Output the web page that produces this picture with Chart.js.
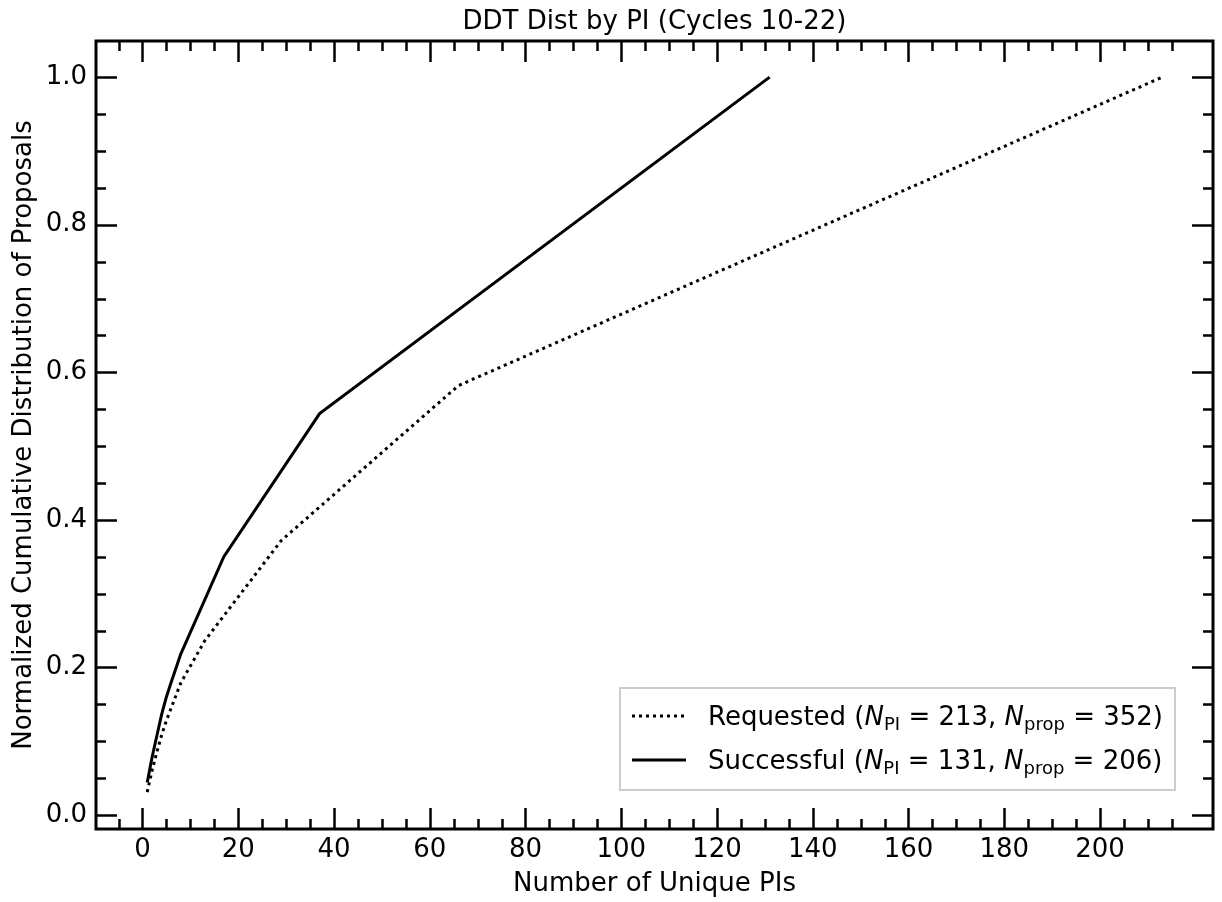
<!DOCTYPE html>
<html>
<head>
<meta charset="utf-8">
<script src="https://cdn.jsdelivr.net/npm/chart.js@4.4.1/dist/chart.umd.min.js"></script>
<style>
  html, body { margin: 0; padding: 0; background: #fff; }
  #wrap { width: 1222px; height: 902px; }
</style>
</head>
<body>
<div id="wrap"><canvas id="chart" width="1222" height="902"></canvas></div>
<script>
'use strict';

// Cumulative fraction of proposals vs. number of unique PIs
const requestedX = [1, 2, 3, 4, 5, 6, 7, 8, 13, 29, 66, 213];
const requestedY = [0.031, 0.060, 0.085, 0.108, 0.128, 0.145, 0.162, 0.179, 0.236, 0.372, 0.582, 1.0];

const successfulX = [1, 2, 3, 4, 5, 6, 7, 8, 17, 37, 131];
const successfulY = [0.044, 0.078, 0.107, 0.136, 0.160, 0.180, 0.199, 0.218, 0.350, 0.544, 1.0];

const seriesNames = ['Requested', 'Successful'];
const seriesNPI = [213, 131];
const seriesNProp = [352, 206];

const xMajorTicks = [0, 20, 40, 60, 80, 100, 120, 140, 160, 180, 200];
const yMajorTicks = [0.0, 0.2, 0.4, 0.6, 0.8, 1.0];

const titleText = 'DDT Dist by PI (Cycles 10-22)';
const xLabel = 'Number of Unique PIs';
const yLabel = 'Normalized Cumulative Distribution of Proposals';

const FONT = '"DejaVu Sans", sans-serif';
const FONT_SIZE = 26;

// minor ticks: every 5 on x, every 0.05 on y (skip majors)
const xMinorTicks = [];
for (let v = -5; v <= 215; v += 5) if (v % 20 !== 0) xMinorTicks.push(v);
const yMinorTicks = [];
for (let i = 1; i < 20; i++) if (i % 4 !== 0) yMinorTicks.push(i * 0.05);

function toPoints(xs, ys) {
  return xs.map((x, i) => ({ x: x, y: ys[i] }));
}

// matplotlib-like frame with inward ticks on all four sides
const frameTicks = {
  id: 'frameTicks',
  afterDatasetsDraw(chart) {
    const { ctx, chartArea: a, scales } = chart;
    const sx = scales.x, sy = scales.y;
    ctx.save();
    ctx.strokeStyle = '#000';
    ctx.lineCap = 'butt';
    ctx.lineWidth = 2.5;
    ctx.beginPath();
    const xt = (vals, len) => {
      vals.forEach((v) => {
        const px = Math.round(sx.getPixelForValue(v)) + 0.5;
        ctx.moveTo(px, a.bottom); ctx.lineTo(px, a.bottom - len);
        ctx.moveTo(px, a.top); ctx.lineTo(px, a.top + len);
      });
    };
    const yt = (vals, len) => {
      vals.forEach((v) => {
        const py = Math.round(sy.getPixelForValue(v)) + 0.5;
        ctx.moveTo(a.left, py); ctx.lineTo(a.left + len, py);
        ctx.moveTo(a.right, py); ctx.lineTo(a.right - len, py);
      });
    };
    xt(xMajorTicks, 21); xt(xMinorTicks, 10);
    yt(yMajorTicks, 21); yt(yMinorTicks, 10);
    ctx.stroke();
    ctx.lineWidth = 3;
    ctx.strokeRect(a.left, a.top, a.right - a.left, a.bottom - a.top);
    ctx.restore();
  },
};

// legend with italic N and subscripts
const richLegend = {
  id: 'richLegend',
  afterDraw(chart) {
    const { ctx, chartArea: a } = chart;
    const normal = FONT_SIZE + 'px ' + FONT;
    const italic = 'italic ' + FONT_SIZE + 'px ' + FONT;
    const sub = '18px ' + FONT;
    const rows = seriesNames.map((name, i) => [
      { t: name + ' (', f: normal, dy: 0 },
      { t: 'N', f: italic, dy: 0 },
      { t: 'PI', f: sub, dy: 5 },
      { t: ' = ' + seriesNPI[i] + ', ', f: normal, dy: 0 },
      { t: 'N', f: italic, dy: 0 },
      { t: 'prop', f: sub, dy: 5 },
      { t: ' = ' + seriesNProp[i] + ')', f: normal, dy: 0 },
    ]);
    ctx.save();
    const widths = rows.map((segs) => segs.reduce((w, s) => { ctx.font = s.f; return w + ctx.measureText(s.t).width; }, 0));
    const boxW = 88 + Math.max(...widths) + 12;
    const boxH = 102;
    const right = a.right - 38;
    const bottom = a.bottom - 39;
    const left = right - boxW;
    const top = bottom - boxH;
    ctx.fillStyle = 'rgba(255,255,255,0.85)';
    ctx.fillRect(left, top, boxW, boxH);
    ctx.strokeStyle = '#cccccc';
    ctx.lineWidth = 2;
    ctx.strokeRect(left, top, boxW, boxH);

    const rowY = [top + 28, top + 72];
    chart.data.datasets.forEach((ds, i) => {
      const y = rowY[i];
      ctx.strokeStyle = '#000';
      ctx.lineWidth = ds.borderWidth;
      ctx.setLineDash(ds.borderDash || []);
      ctx.beginPath();
      ctx.moveTo(left + 12, y);
      ctx.lineTo(left + 66, y);
      ctx.stroke();
      ctx.setLineDash([]);
      let x = left + 88;
      ctx.fillStyle = '#000';
      ctx.textBaseline = 'alphabetic';
      rows[i].forEach((s) => {
        ctx.font = s.f;
        ctx.fillText(s.t, x, y + 9 + s.dy);
        x += ctx.measureText(s.t).width;
      });
    });
    ctx.restore();
  },
};

const ctx = document.getElementById('chart').getContext('2d');
new Chart(ctx, {
  type: 'line',
  data: {
    datasets: [
      {
        label: seriesNames[0],
        data: toPoints(requestedX, requestedY),
        borderColor: '#000',
        borderWidth: 3,
        borderDash: [3, 4],
        pointRadius: 0,
        tension: 0,
      },
      {
        label: seriesNames[1],
        data: toPoints(successfulX, successfulY),
        borderColor: '#000',
        borderWidth: 3,
        pointRadius: 0,
        tension: 0,
      },
    ],
  },
  options: {
    responsive: false,
    animation: false,
    devicePixelRatio: 1,
    layout: { padding: { left: 0, right: 9, top: 0, bottom: 0 } },
    plugins: {
      legend: { display: false },
      tooltip: { enabled: false },
      title: {
        display: true,
        fullSize: false, // center over the plot area like matplotlib
        text: titleText,
        color: '#000',
        font: { family: FONT, size: FONT_SIZE, weight: 'normal', lineHeight: 1.2 },
        padding: { top: 7, bottom: 2.8 },
      },
    },
    scales: {
      x: {
        type: 'linear',
        min: -9.7,
        max: 223.6,
        grid: { display: false, drawTicks: false },
        border: { display: false },
        afterBuildTicks: (scale) => { scale.ticks = xMajorTicks.map((v) => ({ value: v })); },
        afterFit: (scale) => { scale.height = 73; },
        ticks: {
          color: '#000',
          padding: 6,
          autoSkip: false,
          maxRotation: 0,
          font: { family: FONT, size: FONT_SIZE },
        },
        title: {
          display: true,
          text: xLabel,
          color: '#000',
          font: { family: FONT, size: FONT_SIZE },
          padding: { top: 0, bottom: 2 },
        },
      },
      y: {
        type: 'linear',
        min: -0.019,
        max: 1.049,
        grid: { display: false, drawTicks: false },
        border: { display: false },
        afterBuildTicks: (scale) => { scale.ticks = yMajorTicks.map((v) => ({ value: v })); },
        afterFit: (scale) => { scale.width = 96; },
        ticks: {
          color: '#000',
          padding: 9,
          font: { family: FONT, size: FONT_SIZE },
          callback: (v) => v.toFixed(1),
        },
        title: {
          display: true,
          text: yLabel,
          color: '#000',
          font: { family: FONT, size: FONT_SIZE },
          padding: { top: 8.5, bottom: 0 },
        },
      },
    },
  },
  plugins: [frameTicks, richLegend],
});
</script>
</body>
</html>
